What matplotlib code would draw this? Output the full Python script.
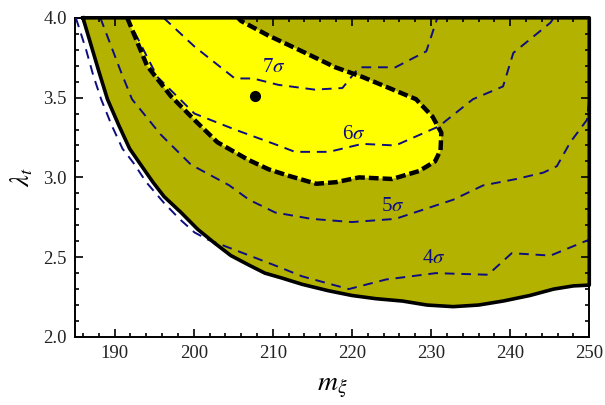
import numpy as np
import matplotlib
matplotlib.use('Agg')
import matplotlib.pyplot as plt
from matplotlib.ticker import MultipleLocator

plt.rcParams['font.family'] = ['Liberation Serif', 'DejaVu Serif']
plt.rcParams['mathtext.fontset'] = 'stix'

# solid boundary of the olive region
bound_x = [186.0, 187.2, 188.1, 189.1, 190.5, 191.9, 193.3, 194.85, 196.25, 198.4, 200.5,
           202.6, 204.7, 207.0, 209.0, 211.1, 213.7, 217.0, 220.0, 223.0, 226.4, 229.5,
           232.8, 236.0, 239.1, 242.5, 245.5, 248.0, 250.0]
bound_y = [4.00, 3.80, 3.65, 3.49, 3.33, 3.18, 3.08, 2.97, 2.88, 2.78, 2.675,
           2.59, 2.51, 2.45, 2.40, 2.37, 2.33, 2.29, 2.26, 2.24, 2.225, 2.20,
           2.19, 2.20, 2.225, 2.26, 2.30, 2.32, 2.325]

# thick dashed boundary of the yellow region
yel_x = [191.6, 194.1, 197.1, 200.1, 203.0, 206.9, 209.5, 212.0, 215.5, 218.0, 220.9,
         225.1, 228.5, 230.5, 231.2, 231.3, 230.2, 228.1, 224.7, 221.3, 217.9,
         213.7, 209.4, 206.0, 205.6]
yel_y = [4.00, 3.70, 3.51, 3.36, 3.22, 3.11, 3.05, 3.01, 2.96, 2.97, 3.00,
         2.99, 3.04, 3.10, 3.17, 3.28, 3.38, 3.49, 3.56, 3.63, 3.69,
         3.79, 3.89, 3.98, 4.00]

# sigma contours
s4_x = [185.1, 185.3, 186.4, 187.3, 188.3, 189.6, 191.0, 192.4, 194.0, 196.25, 198.2, 200.1,
        201.8, 204.7, 208.1, 210.7, 213.7, 219.6, 224.3, 230.6, 237.2, 240.2, 245.1, 250.0]
s4_y = [4.00, 3.97, 3.80, 3.64, 3.49, 3.33, 3.18, 3.09, 2.97, 2.84, 2.74, 2.655,
        2.61, 2.555, 2.49, 2.44, 2.38, 2.30, 2.36, 2.40, 2.39, 2.525, 2.51, 2.61]
s5_x = [188.2, 190.7, 192.2, 195.8, 199.65, 204.5, 207.0, 210.3, 214.9, 220.0, 225.5,
        232.8, 236.6, 240.8, 244.2, 245.9, 247.6, 249.7, 250.0]
s5_y = [4.00, 3.675, 3.49, 3.27, 3.08, 2.95, 2.86, 2.78, 2.74, 2.72, 2.74,
        2.86, 2.95, 2.99, 3.03, 3.07, 3.22, 3.36, 3.49]
s6_x = [191.6, 195.4, 200.1, 205.2, 210.7, 212.8, 217.1, 221.3, 225.5, 231.0,
        235.3, 239.1, 240.4, 245.1, 245.5]
s6_y = [4.00, 3.63, 3.40, 3.30, 3.20, 3.16, 3.16, 3.21, 3.20, 3.32,
        3.49, 3.57, 3.78, 3.97, 4.00]
s7_x = [196.2, 200.1, 205.2, 207.5, 210.7, 215.3, 218.8, 220.9, 225.5, 229.4, 230.8]
s7_y = [4.00, 3.82, 3.62, 3.62, 3.58, 3.55, 3.56, 3.69, 3.69, 3.79, 4.00]

labels = ['4$\\sigma$', '5$\\sigma$', '6$\\sigma$', '7$\\sigma$']
label_x = [230.4, 225.1, 220.2, 210.1]
label_y = [2.49, 2.82, 3.27, 3.69]

best_x, best_y = 207.7, 3.51

fig = plt.figure(figsize=(6.05, 4.05), dpi=100)
ax = fig.add_axes([0.124, 0.168, 0.850, 0.788])

olive = '#b4b200'
navy = '#0d0d80'

# olive region
px = bound_x + [250.0, 186.0]
py = bound_y + [4.0, 4.0]
ax.fill(px, py, color=olive, lw=0, zorder=1)
# yellow region
ax.fill(yel_x, yel_y, color='#ffff00', lw=0, zorder=2)

for cx, cy in [(s4_x, s4_y), (s5_x, s5_y), (s6_x, s6_y), (s7_x, s7_y)]:
    ax.plot(cx, cy, color=navy, lw=1.4, dashes=(5, 3.5), zorder=3)

ax.plot(yel_x, yel_y, color='black', lw=3.2, dashes=(2.2, 0.9), zorder=4)
ax.plot(px + [bound_x[0]], py + [bound_y[0]], color='black', lw=2.6, zorder=5,
        solid_joinstyle='round', clip_on=False)

for t, lx, ly in zip(labels, label_x, label_y):
    ax.text(lx, ly, t, color=navy, fontsize=15, ha='center', va='center', zorder=6)

ax.plot([best_x], [best_y], 'o', color='black', ms=7, zorder=6)

ax.set_xlim(185, 250)
ax.set_ylim(2.0, 4.0)
ax.xaxis.set_major_locator(MultipleLocator(10))
ax.xaxis.set_minor_locator(MultipleLocator(2))
ax.yaxis.set_major_locator(MultipleLocator(0.5))
ax.yaxis.set_minor_locator(MultipleLocator(0.1))
ax.yaxis.set_major_formatter(matplotlib.ticker.FormatStrFormatter('%.1f'))
ax.tick_params(which='both', direction='in', top=True, right=True, labelsize=13.5,
               width=1.2, pad=6, colors='black', labelcolor='#222222')
ax.tick_params(which='major', length=6)
ax.tick_params(which='minor', length=3)
for s in ax.spines.values():
    s.set_linewidth(1.4)

ax.set_xlabel('$m_{\\xi}$', fontsize=20, labelpad=10)
ax.set_ylabel('$\\lambda_t$', fontsize=19, labelpad=6)

fig.savefig('out.png', dpi=100)
